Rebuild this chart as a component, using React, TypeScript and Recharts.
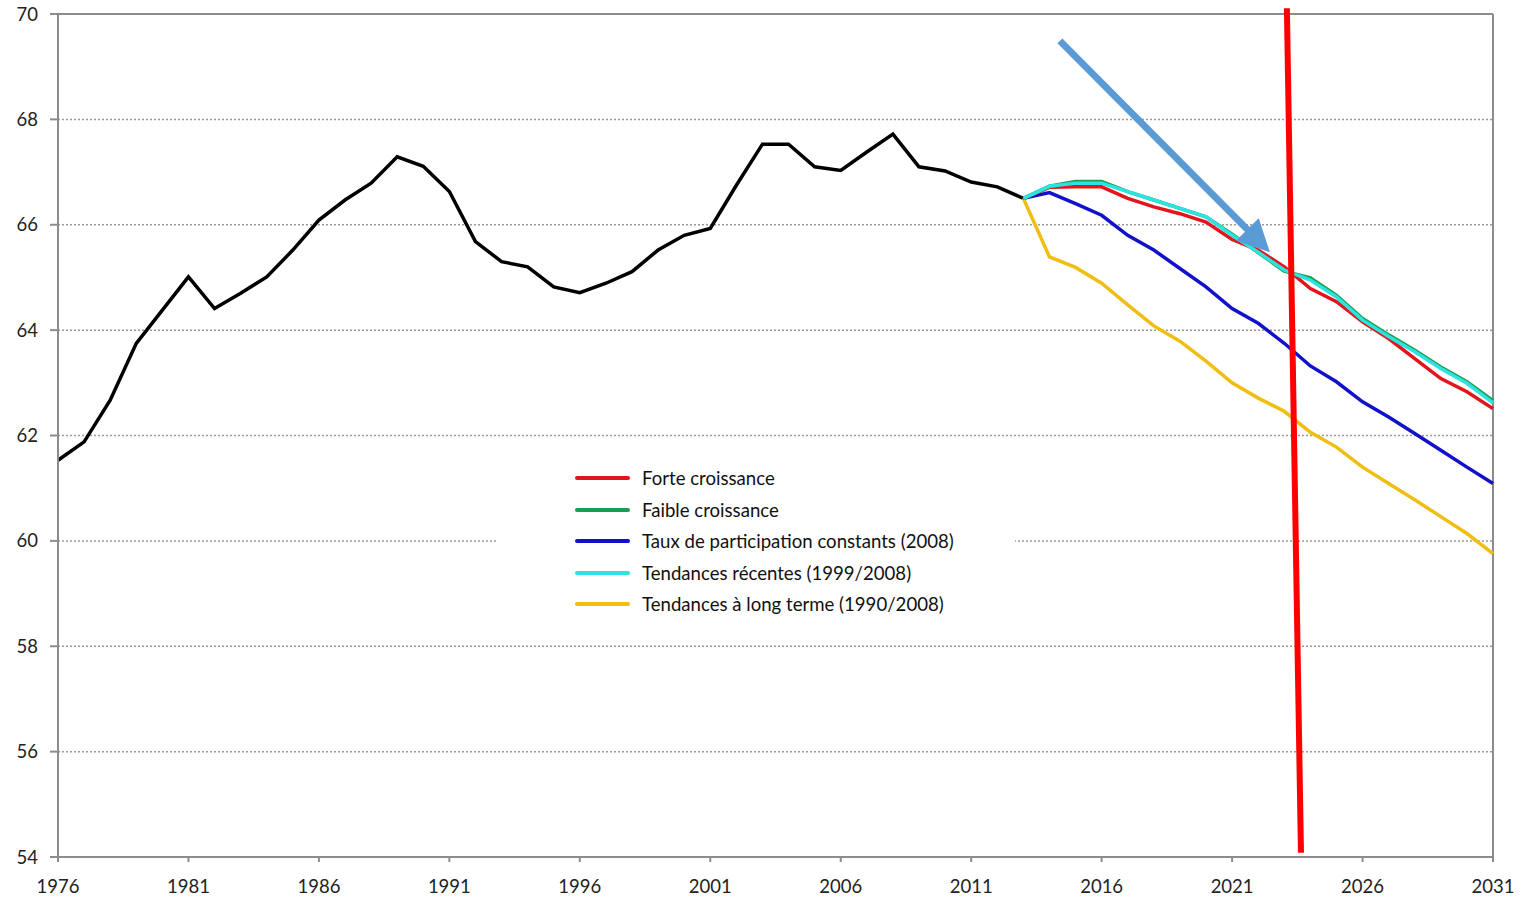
import React from "react";
import {
  LineChart, Line, XAxis, YAxis, CartesianGrid, ReferenceLine,
} from "recharts";

// historique 1976-2013
const HIST_YEARS = [
  1976, 1977, 1978, 1979, 1980, 1981, 1982, 1983, 1984, 1985,
  1986, 1987, 1988, 1989, 1990, 1991, 1992, 1993, 1994, 1995,
  1996, 1997, 1998, 1999, 2000, 2001, 2002, 2003, 2004, 2005,
  2006, 2007, 2008, 2009, 2010, 2011, 2012, 2013,
];
const HIST = [
  61.53, 61.88, 62.67, 63.75, 64.38, 65.01, 64.41, 64.70, 65.01, 65.52,
  66.09, 66.47, 66.79, 67.29, 67.11, 66.63, 65.68, 65.30, 65.20, 64.82,
  64.71, 64.89, 65.11, 65.52, 65.80, 65.93, 66.75, 67.53, 67.53, 67.10,
  67.03, 67.38, 67.72, 67.10, 67.02, 66.81, 66.72, 66.50,
];

// projections 2013-2031
const PROJ_YEARS = [
  2013, 2014, 2015, 2016, 2017, 2018, 2019, 2020, 2021, 2022,
  2023, 2024, 2025, 2026, 2027, 2028, 2029, 2030, 2031,
];
const FORTE = [
  66.50, 66.71, 66.72, 66.72, 66.50, 66.34, 66.21, 66.05, 65.72, 65.52,
  65.20, 64.79, 64.54, 64.16, 63.84, 63.46, 63.08, 62.83, 62.51,
];
const FAIBLE = [
  66.50, 66.73, 66.82, 66.82, 66.63, 66.47, 66.31, 66.15, 65.82, 65.47,
  65.12, 64.99, 64.66, 64.22, 63.91, 63.62, 63.30, 63.02, 62.66,
];
const CONSTANTS = [
  66.50, 66.61, 66.40, 66.18, 65.80, 65.52, 65.17, 64.82, 64.41, 64.13,
  63.75, 63.32, 63.02, 62.64, 62.35, 62.04, 61.72, 61.40, 61.09,
];
const RECENTES = [
  66.50, 66.73, 66.79, 66.79, 66.63, 66.47, 66.31, 66.15, 65.80, 65.48,
  65.14, 64.95, 64.63, 64.19, 63.88, 63.59, 63.27, 62.99, 62.62,
];
const LONG_TERME = [
  66.50, 65.39, 65.19, 64.89, 64.48, 64.08, 63.79, 63.41, 63.00, 62.71,
  62.46, 62.06, 61.78, 61.40, 61.09, 60.78, 60.46, 60.14, 59.76,
];

const X_TICKS = [1976, 1981, 1986, 1991, 1996, 2001, 2006, 2011, 2016, 2021, 2026, 2031];
const Y_TICKS = [54, 56, 58, 60, 62, 64, 66, 68, 70];

const SERIES = [
  { key: "forte", name: "Forte croissance", color: "#E3151C", values: FORTE },
  { key: "faible", name: "Faible croissance", color: "#17A052", values: FAIBLE },
  { key: "constants", name: "Taux de participation constants (2008)", color: "#1111CC", values: CONSTANTS },
  { key: "recentes", name: "Tendances récentes (1999/2008)", color: "#2DE3E0", values: RECENTES },
  { key: "long", name: "Tendances à long terme (1990/2008)", color: "#F0BE12", values: LONG_TERME },
];

// ordre de dessin (le cyan par-dessus)
const DRAW_ORDER = ["long", "constants", "forte", "faible", "recentes"];

const data = [...HIST_YEARS, ...PROJ_YEARS.slice(1)].map((year) => {
  const row: Record<string, number | null> = { year };
  const h = HIST_YEARS.indexOf(year);
  row.hist = h >= 0 ? HIST[h] : null;
  const p = PROJ_YEARS.indexOf(year);
  SERIES.forEach((s) => {
    row[s.key] = p >= 0 ? s.values[p] : null;
  });
  return row;
});

const FONT = "Lato, 'Open Sans', sans-serif";
const AXIS = "#8c8c8c";

function Arrow(props: any) {
  const { x1, y1, x2, y2 } = props;
  const ang = Math.atan2(y2 - y1, x2 - x1);
  const len = 32;
  const half = 16;
  const bx = x2 - len * Math.cos(ang);
  const by = y2 - len * Math.sin(ang);
  const px = -Math.sin(ang);
  const py = Math.cos(ang);
  return (
    <g>
      <line x1={x1} y1={y1} x2={bx + 2 * Math.cos(ang)} y2={by + 2 * Math.sin(ang)} stroke="#5B9BD5" strokeWidth={7} />
      <polygon
        points={`${x2},${y2} ${bx + px * half},${by + py * half} ${bx - px * half},${by - py * half}`}
        fill="#5B9BD5"
      />
    </g>
  );
}

function LegendBox() {
  return (
    <div
      style={{
        position: "absolute", left: 497, top: 462, width: 518, height: 160,
        background: "#fff", fontFamily: FONT, fontSize: 18.6, color: "#111",
      }}
    >
      {SERIES.map((s, i) => (
        <div
          key={s.key}
          style={{ position: "absolute", left: 78, top: 16 + i * 31.5 - 12, height: 24, display: "flex", alignItems: "center" }}
        >
          <div style={{ width: 55, height: 4, background: s.color, borderRadius: 2 }} />
          <span style={{ marginLeft: 12, whiteSpace: "nowrap" }}>{s.name}</span>
        </div>
      ))}
    </div>
  );
}

export default function App() {
  return (
    <div style={{ position: "relative", width: 1522, height: 899, background: "#fff" }}>
      <style>{"body{margin:0}"}</style>
      <LineChart width={1522} height={899} data={data} margin={{ top: 14, right: 29, bottom: 0, left: 8 }}>
        <CartesianGrid vertical={false} stroke="#9a9a9a" strokeDasharray="2 2" strokeWidth={1.5} />
        <XAxis
          type="number"
          dataKey="year"
          domain={[1976, 2031]}
          ticks={X_TICKS}
          interval={0}
          stroke={AXIS}
          strokeWidth={2}
          tickSize={5}
          tickMargin={18}
          height={42}
          tick={{ fontSize: 18.5, fill: "#222", fontFamily: FONT }}
        />
        <YAxis
          type="number"
          domain={[54, 70]}
          ticks={Y_TICKS}
          interval={0}
          width={50}
          stroke={AXIS}
          strokeWidth={2}
          tickSize={8}
          tickMargin={12}
          tick={{ fontSize: 18.5, fill: "#222", fontFamily: FONT }}
        />
        <ReferenceLine y={70} stroke={AXIS} strokeWidth={2} />
        <ReferenceLine x={2031} stroke={AXIS} strokeWidth={2} />
        <Line dataKey="hist" stroke="#000" strokeWidth={3.5} dot={false} isAnimationActive={false} connectNulls={false} />
        {DRAW_ORDER.map((k) => {
          const s = SERIES.find((x) => x.key === k)!;
          return (
            <Line
              key={k}
              dataKey={k}
              name={s.name}
              stroke={s.color}
              strokeWidth={3.5}
              dot={false}
              isAnimationActive={false}
            />
          );
        })}
        <ReferenceLine
          segment={[{ x: 2023.1, y: 70.11 }, { x: 2023.64, y: 54.08 }]}
          stroke="#FF0000"
          strokeWidth={6}
          ifOverflow="visible"
        />
        <ReferenceLine
          segment={[{ x: 2014.4, y: 69.49 }, { x: 2022.45, y: 65.48 }]}
          ifOverflow="visible"
          shape={Arrow}
        />
      </LineChart>
      <LegendBox />
    </div>
  );
}
